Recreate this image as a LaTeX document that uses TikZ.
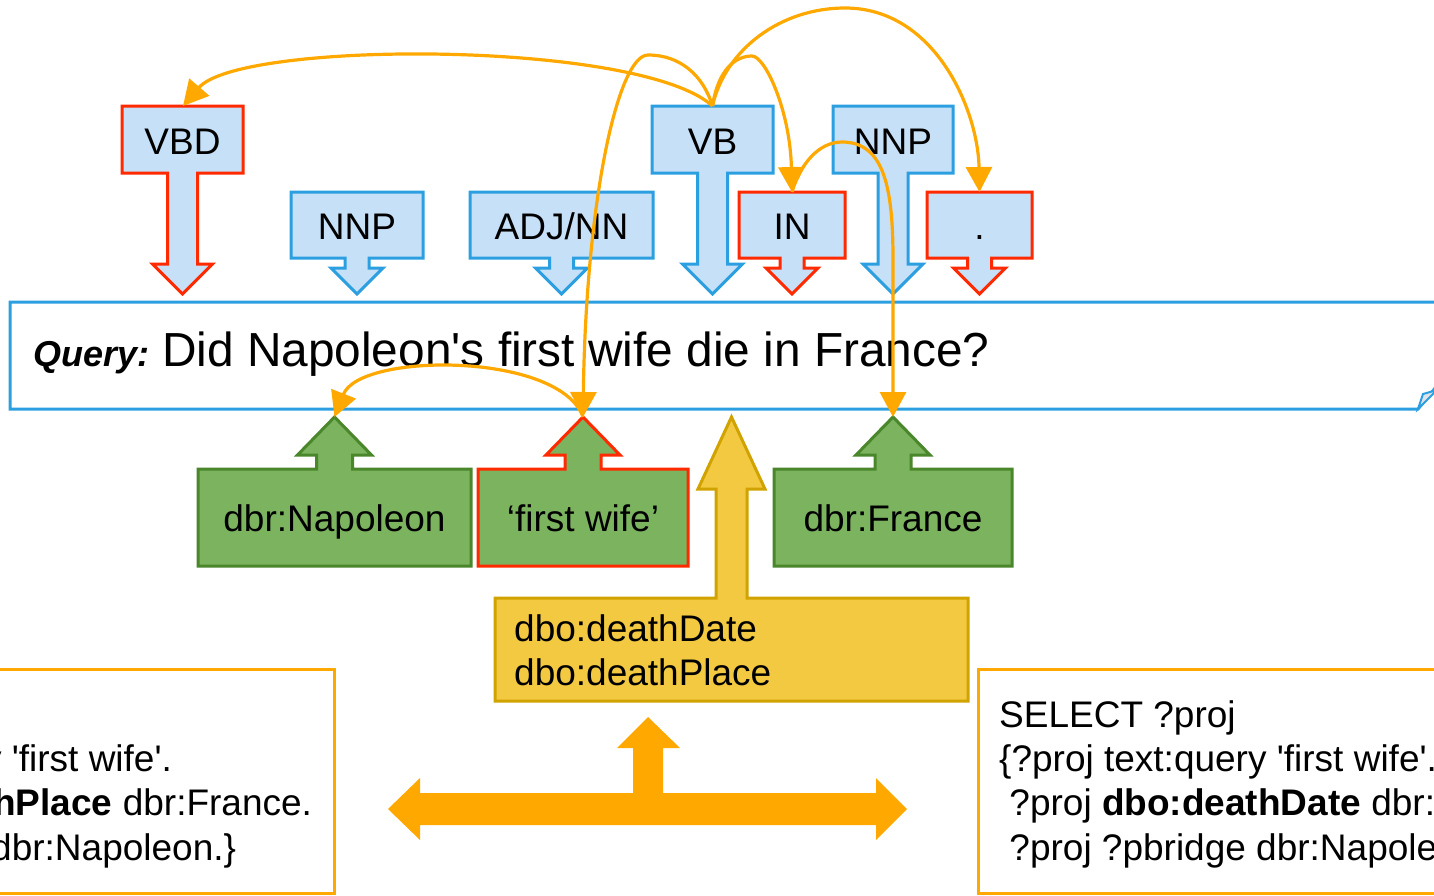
\documentclass[tikz,border=0pt]{standalone}
\usepackage{fontspec}
\setmainfont{Liberation Sans}
\usetikzlibrary{arrows.meta}
\definecolor{tagFill}{HTML}{C6E0F8}
\definecolor{tagBlue}{HTML}{2C9FE0}
\definecolor{tagRed}{HTML}{FF2A00}
\definecolor{grFill}{HTML}{7BB35F}
\definecolor{grLine}{HTML}{4A862A}
\definecolor{yeFill}{HTML}{F2C940}
\definecolor{yeLine}{HTML}{D1A300}
\definecolor{orng}{HTML}{FFA800}
\newcommand{\sq}{\textquotesingle}
% big down tag: style, cx, half box width
\newcommand{\bigtag}[3]{\draw[#1] ({#2-#3},106) -- ({#2+#3},106) -- ({#2+#3},173) -- ({#2+15},173) -- ({#2+15},264) -- ({#2+30},264) -- (#2,294) -- ({#2-30},264) -- ({#2-15},264) -- ({#2-15},173) -- ({#2-#3},173) -- cycle;}
% small down tag
\newcommand{\smalltag}[3]{\draw[#1] ({#2-#3},192) -- ({#2+#3},192) -- ({#2+#3},258) -- ({#2+12},258) -- ({#2+12},268) -- ({#2+26},268) -- (#2,294) -- ({#2-26},268) -- ({#2-12},268) -- ({#2-12},258) -- ({#2-#3},258) -- cycle;}
% green up tag
\newcommand{\uptag}[3]{\draw[#1] ({#2-#3},566) -- ({#2+#3},566) -- ({#2+#3},469) -- ({#2+18},469) -- ({#2+18},455) -- ({#2+37},455) -- (#2,417) -- ({#2-37},455) -- ({#2-18},455) -- ({#2-18},469) -- ({#2-#3},469) -- cycle;}
\tikzset{
  tagb/.style={draw=tagBlue, fill=tagFill, line width=3pt},
  tagr/.style={draw=tagRed, fill=tagFill, line width=3pt},
  grn/.style={draw=grLine, fill=grFill, line width=3pt},
  grnr/.style={draw=tagRed, fill=grFill, line width=3pt},
  lbl/.style={anchor=base, inner sep=0pt, font=\fontsize{37}{44}\selectfont},
  code/.style={anchor=base west, inner sep=0pt, align=left, font=\fontsize{37}{44.3}\selectfont},
  codebox/.style={draw=orng, fill=white, line width=3pt},
  link/.style={draw=orng, line width=3.2pt, -{Triangle[length=25pt,width=26pt]}},
}
\begin{document}
\begin{tikzpicture}[x=1pt,y=-1pt]
\useasboundingbox (0,0) rectangle (1434,895);
\clip (0,0) rectangle (1434,895);

% query box
\draw[draw=tagBlue, fill=white, line width=3pt] (10,302) -- (1445,302) -- (1445,376) -- (1418,409) -- (10,409) -- cycle;
\draw[draw=tagBlue, fill=tagFill!60!gray!40, line width=2pt] (1418,409) -- (1423,394) -- (1437,390) -- cycle;
\node[anchor=base west, inner sep=0pt, font=\fontsize{36}{40}\selectfont\bfseries\itshape] (qlab) at (33,366) {Query:};
\node[anchor=base west, inner sep=0pt, font=\fontsize{47.8}{56}\selectfont] (qtext) at (162,366) {Did Napoleon\sq s first wife die in France?};

% top tags
\bigtag{tagr}{182.5}{60.5}
\smalltag{tagb}{357}{66}
\smalltag{tagb}{561.5}{91.5}
\bigtag{tagb}{712.5}{60.5}
\smalltag{tagr}{792}{53}
\bigtag{tagb}{893}{60}
\smalltag{tagr}{979.5}{52.5}
\node[lbl] (tVBD) at (182.5,154) {VBD};
\node[lbl] (tNNP) at (357,239) {NNP};
\node[lbl] (tADJ) at (561.5,239) {ADJ/NN};
\node[lbl] (tVB) at (712.5,154) {VB};
\node[lbl] (tIN) at (792,239) {IN};
\node[lbl] (tNNPb) at (893,154) {NNP};
\node[lbl] (tDot) at (979.5,239) {.};

% green tags
\uptag{grn}{334.5}{136.5}
\uptag{grnr}{583}{105}
\uptag{grn}{893}{119}
\node[lbl] (gNap) at (334.5,531) {dbr:Napoleon};
\node[lbl] (gWife) at (583,531) {`first wife'};
\node[lbl] (gFr) at (893,531) {dbr:France};

% yellow callout
\draw[draw=yeLine, fill=yeFill, line width=3pt] (495,598) -- (716,598) -- (716,489) -- (698,489) -- (731.5,417) -- (765,489) -- (747,489) -- (747,598) -- (968,598) -- (968,701) -- (495,701) -- cycle;
\node[code, font=\fontsize{37}{43.3}\selectfont] (yText) at (514,685) {dbo:deathDate\\dbo:deathPlace};

% bottom double arrow
\fill[orng] (388,809) -- (420,778) -- (420,793) -- (633,793) -- (633,748) -- (617,748) -- (648,717) -- (680,748) -- (663,748) -- (663,793) -- (876,793) -- (876,778) -- (907,809) -- (876,840) -- (876,825) -- (420,825) -- (420,840) -- cycle;

% code boxes
\draw[codebox] (-287,669) rectangle (334,893);
\draw[codebox] (978,669) rectangle (1600,893);
\node[code] (lcode) at (-266,860) {SELECT ?proj\\\{?proj text:query \sq first wife\sq.\\\mbox{\ }?proj \textbf{dbo:deathPlace} dbr:France.\\\mbox{\ }?proj ?pbridge dbr:Napoleon.\}};
\node[code] (rcode) at (999,860) {SELECT ?proj\\\{?proj text:query \sq first wife\sq.\\\mbox{\ }?proj \textbf{dbo:deathDate} dbr:France.\\\mbox{\ }?proj ?pbridge dbr:Napoleon.\}};

% link coordinates
\coordinate (vbTop) at (712.5,106);
\coordinate (vbdTip) at (183,106);
\coordinate (inTip) at (792,192);
\coordinate (dotTip) at (979.5,192);
\coordinate (napTip) at (334.5,417);
\coordinate (fwTip) at (583,417);
\coordinate (frTip) at (893,417);

\draw[link] (vbTop) .. controls (640,40) and (240,40) .. (vbdTip);
\draw[link] (vbTop) .. controls (703,75) and (680,55) .. (648,55) .. controls (618,55) and (586,200) .. (fwTip);
\draw[link] (fwTip) .. controls (560,352) and (360,352) .. (napTip);
\draw[link] (vbTop) .. controls (718,70) and (735,56) .. (752,56) .. controls (765,56) and (790,110) .. (inTip);
\draw[link] (vbTop) .. controls (725,50) and (780,8) .. (845,8) .. controls (935,8) and (978,110) .. (dotTip);
\draw[link] (inTip) .. controls (800,165) and (818,142) .. (842,142) .. controls (885,142) and (893,190) .. (893,260) -- (frTip);
\end{tikzpicture}
\end{document}
